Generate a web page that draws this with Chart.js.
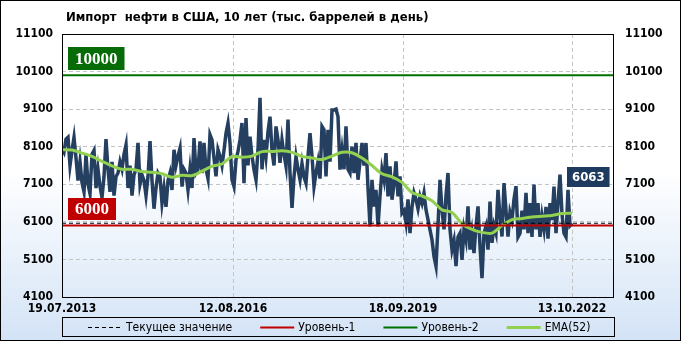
<!DOCTYPE html>
<html><head><meta charset="utf-8">
<script src="https://cdn.jsdelivr.net/npm/chart.js@4.4.0/dist/chart.umd.min.js"></script>
<style>html,body{margin:0;padding:0;background:#fff}canvas{display:block}</style>
</head><body>
<canvas id="c" width="681" height="341"></canvas>
<script>
const FONT="'DejaVu Sans Condensed','DejaVu Sans',sans-serif";

// x tick labels and their positions (sample index, 2 weeks per sample)
const dateLabels=['19.07.2013','12.08.2016','18.09.2019','13.10.2022'];
const datePos=[0,85.5,170.5,255];
const xMax=275.5;

// US crude oil imports, thousand barrels per day (every ~2 weeks)
const imports=[
 8050,7950,8300,8350,7600,8000,8350,7800,7200,7700,7150,6900,7900,7100,6850,7900,8000,7000,7500,7050,
 6750,7300,8300,7500,6900,7700,6800,7300,7400,7700,7500,7900,8150,7000,7600,6800,7350,7500,8200,7100,
 7350,7200,6800,7300,8250,7200,6450,7000,7400,
 7300,6600,7000,6500,7200,7400,6950,8020,7600,7850,8060,7040,7500,7400,6950,7500,7000,8330,7400,7500,
 8240,7400,8200,7500,7250,8420,8280,7800,7310,8020,7850,7600,8000,8460,8730,8200,7220,7040,7750,7975,
 8280,8730,7130,8860,7600,8370,7850,7490,7220,8020,9400,7500,8280,
 7840,8500,8900,8000,7600,8640,8280,7670,8280,7900,7580,8820,7400,6470,7300,7840,7500,7220,7650,7300,
 7130,7850,8460,7850,7040,7400,7700,7250,8640,8550,7310,8550,7700,9080,9080,9100,8900,7490,8000,7500,
 8640,7500,7400,8100,7400,8200,7220,
 7700,8200,7600,8200,7000,5980,7220,6510,6950,5980,6780,7490,7220,7930,6780,7580,6690,7100,7710,6780,
 7310,6330,6400,6070,6700,5800,6500,6870,6700,6450,6780,6600,6870,6420,6160,5890,5625,5180,4920,6000,
 7220,6420,5900,6800,7400,5900,5360,5600,4920,5700,5800,5090,5900,5625,6510,
 5360,5800,5270,5980,6510,5450,4600,5800,5980,5360,6640,5540,6000,5800,6950,6250,5710,7130,6400,5710,
 6350,6150,6700,7050,5700,5800,6400,5900,6870,5800,6600,5700,7090,5900,6600,5700,6250,5900,6500,5650,
 6600,6150,7040,5800,6600,7360,6300,5800,5700,6950,6000,6063
];
// EMA(52), one value every 5 samples
const ema52=[
 8020,8010,7930,7840,7710,7590,7500,7500,7440,7420,7380,7290,7340,7330,7450,7580,7640,7840,7820,7850,
 7970,7975,7990,7950,7840,7800,7760,7850,7950,7940,7800,7600,7380,7300,7150,6880,6790,6660,6420,6350,
 6050,5900,5820,5800,6000,6160,6190,6230,6250,6270,6320,6330
];
const level1=6000, level2=10000;
const current=imports[imports.length-1];

const flat=v=>[{x:0,y:v},{x:xMax,y:v}];

const decor={
  id:'decor',
  beforeDraw(chart){
    const {ctx,width,height}=chart;
    const g=ctx.createLinearGradient(0,0,0,height);
    g.addColorStop(0,'#ffffff');g.addColorStop(0.5,'#ffffff');g.addColorStop(1,'#d3e3f6');
    ctx.save();ctx.fillStyle=g;ctx.fillRect(0,0,width,height);ctx.restore();
  },
  afterDraw(chart){
    const {ctx,chartArea:a,width,height}=chart;
    const y=chart.scales.y, x=chart.scales.x;
    ctx.save();
    // plot frame
    ctx.strokeStyle='#000';ctx.lineWidth=1;
    ctx.strokeRect(Math.round(a.left)+0.5,Math.round(a.top)+0.5,Math.round(a.right-a.left),Math.round(a.bottom-a.top));
    // title
    ctx.fillStyle='#000';ctx.font='bold 13px '+FONT;ctx.textAlign='left';ctx.textBaseline='middle';
    ctx.fillText('Импорт  нефти в США, 10 лет (тыс. баррелей в день)',66,18);
    // value tags
    const tag=(text,tx,ty,h,bg,font,padX)=>{
      ctx.font=font;const w=ctx.measureText(text).width+2*padX;
      ctx.fillStyle=bg;ctx.fillRect(tx,ty,w,h);
      ctx.fillStyle='#fff';ctx.textAlign='center';ctx.textBaseline='middle';
      ctx.fillText(text,tx+w/2,ty+h/2+1);
    };
    tag(String(level2),68,Math.round(y.getPixelForValue(level2))-28,23,'#076b07',"bold 17px 'Liberation Serif',serif",7);
    tag(String(level1),68,Math.round(y.getPixelForValue(level1))-28,22,'#c00000',"bold 17px 'Liberation Serif',serif",7);
    tag(String(current),Math.round(x.getPixelForValue(imports.length-1))-5,Math.round(y.getPixelForValue(current))-56,20,'#1f3a5f','bold 13px '+FONT,5);
    // legend
    const items=chart.data.datasets.slice(1);
    ctx.font='12px '+FONT;
    const lineW=34, gapT=4, gapI=28;
    let total=0;
    items.forEach((d,i)=>{total+=lineW+gapT+ctx.measureText(d.label).width+(i<items.length-1?gapI:0);});
    let lx=Math.round((a.left+a.right)/2-total/2+2);
    const ly=327;
    ctx.strokeStyle='#000';ctx.lineWidth=1;ctx.strokeRect(62.5,317.5,552,19);
    items.forEach(d=>{
      ctx.beginPath();ctx.setLineDash(d.borderDash||[]);ctx.strokeStyle=d.borderColor;ctx.lineWidth=d.borderWidth;
      ctx.moveTo(lx,ly+0.5);ctx.lineTo(lx+lineW,ly+0.5);ctx.stroke();ctx.setLineDash([]);
      ctx.fillStyle='#000';ctx.textAlign='left';ctx.textBaseline='middle';
      ctx.fillText(d.label,lx+lineW+gapT,ly+1);
      lx+=lineW+gapT+ctx.measureText(d.label).width+gapI;
    });
    // outer border
    ctx.strokeStyle='#000';ctx.lineWidth=1;ctx.strokeRect(0.5,0.5,width-1,height-1);
    ctx.restore();
  }
};

const yTickOpts=pad=>({stepSize:1000,padding:pad,color:'#000',callback:v=>String(v),font:{family:FONT,size:12,weight:'bold'}});

new Chart(document.getElementById('c'),{
  type:'line',
  data:{datasets:[
    {label:'Импорт',data:imports.map((v,i)=>({x:i,y:v})),borderColor:'#243f60',borderWidth:3.5,pointRadius:0,tension:0,order:10},
    {label:'Текущее значение',data:flat(current),borderColor:'#000',borderWidth:1,borderDash:[4,3],pointRadius:0,order:1},
    {label:'Уровень-1',data:flat(level1),borderColor:'#c00000',borderWidth:2,pointRadius:0,order:2},
    {label:'Уровень-2',data:flat(level2),borderColor:'#007000',borderWidth:2,pointRadius:0,order:3},
    {label:'EMA(52)',data:ema52.map((v,k)=>({x:k*5,y:v})),borderColor:'#92d050',borderWidth:3,pointRadius:0,tension:0.3,order:5}
  ]},
  options:{
    responsive:false,animation:false,
    layout:{padding:{top:34,bottom:0,left:0,right:0}},
    plugins:{legend:{display:false},tooltip:{enabled:false}},
    scales:{
      x:{type:'linear',min:0,max:xMax,
        afterBuildTicks:s=>{s.ticks=datePos.map(v=>({value:v}));},
        afterFit:s=>{s.height=44;},
        ticks:{callback:(v,i)=>dateLabels[i],maxRotation:0,autoSkip:false,padding:5,color:'#000',font:{family:FONT,size:12,weight:'bold'}},
        grid:{color:'#c4c4c4',drawTicks:false},border:{display:false,dash:[4,3]}},
      y:{position:'left',min:4100,max:11100,afterFit:s=>{s.width=62;},
        ticks:yTickOpts(9),grid:{color:'#c4c4c4',drawTicks:false},border:{display:false,dash:[4,3]}},
      y2:{position:'right',min:4100,max:11100,afterFit:s=>{s.width=68;},
        ticks:yTickOpts(12),grid:{display:false,drawTicks:false},border:{display:false}}
    }
  },
  plugins:[decor]
});
</script>
</body></html>
